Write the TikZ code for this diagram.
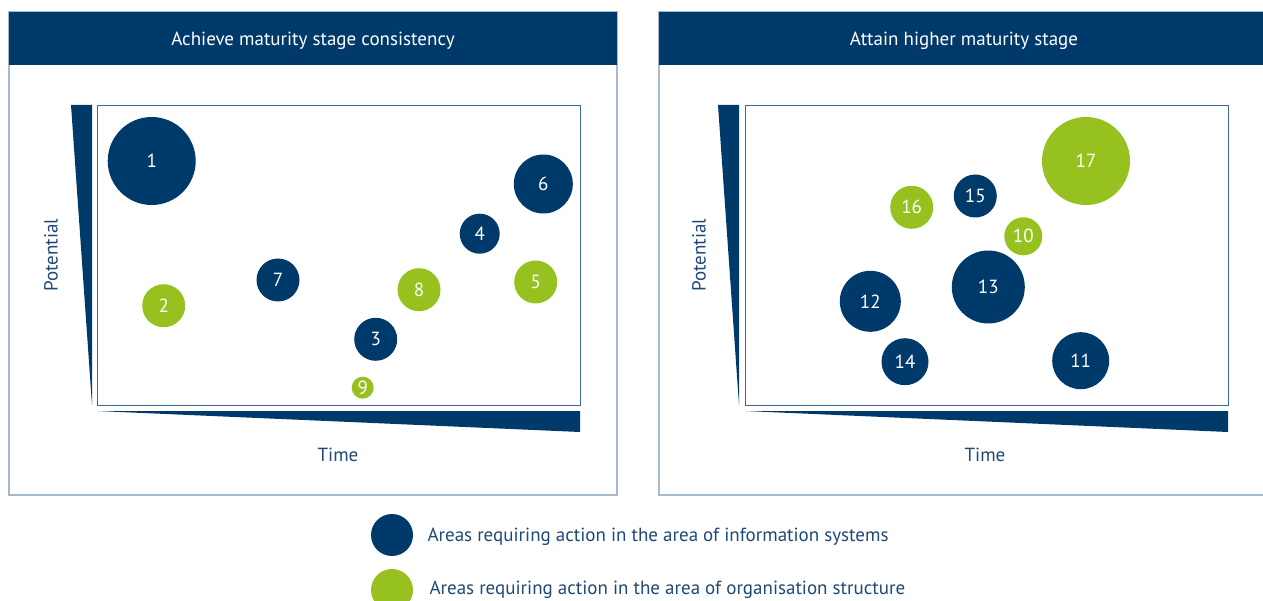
\documentclass[tikz,border=0pt]{standalone}
\usepackage{fontspec}
\setmainfont{PT Sans}
\definecolor{navy}{RGB}{0,58,106}
\definecolor{lime}{RGB}{151,193,31}
\definecolor{boxline}{RGB}{60,105,150}
\definecolor{panelline}{RGB}{168,186,202}
\definecolor{labeltext}{RGB}{31,72,118}
\begin{document}
\begin{tikzpicture}[x=1pt,y=-1pt,
  panel/.style={draw=panelline,line width=1.2pt},
  header/.style={fill=navy},
  headtext/.style={text=white,font=\fontsize{19}{21}\selectfont},
  plotbox/.style={draw=boxline,line width=0.8pt},
  wedge/.style={fill=navy},
  axislabel/.style={text=labeltext,font=\fontsize{19}{21}\selectfont},
  bub/.style={circle,inner sep=0pt,text=white,font=\fontsize{19}{21}\selectfont},
  isb/.style={bub,fill=navy},
  osb/.style={bub,fill=lime},
  legtext/.style={text=labeltext,font=\fontsize{19}{21}\selectfont,anchor=west}]
\useasboundingbox (0,0) rectangle (1263,601);
% left panel
\draw[panel] (9,12) rectangle (617,495);
\fill[header] (9,12) rectangle (617,65);
\node[headtext] (h1) at (313,41) {Achieve maturity stage consistency};
\draw[plotbox] (97,105) rectangle (580,405);
\fill[wedge] (71,105) -- (92,105) -- (92,405) -- cycle;
\fill[wedge] (97,411) -- (580,411) -- (580,432) -- cycle;
\node[axislabel,rotate=90] (p1) at (51,255) {Potential};
\node[axislabel] (t1) at (338,455) {Time};
\node[isb,minimum size=88pt] (c1) at (151.7,161) {1};
\node[osb,minimum size=43pt] (c2) at (163.7,305.7) {2};
\node[isb,minimum size=43pt] (c7) at (278,280) {7};
\node[isb,minimum size=59pt] (c6) at (543.3,184) {6};
\node[isb,minimum size=40pt] (c4) at (479.7,233.7) {4};
\node[osb,minimum size=43pt] (c8) at (419,289.7) {8};
\node[osb,minimum size=43pt] (c5) at (535.7,282) {5};
\node[isb,minimum size=43pt] (c3) at (375.7,339.3) {3};
\node[osb,minimum size=22pt] (c9) at (362.7,387.7) {9};
% right panel
\draw[panel] (659,12) rectangle (1275,495);
\fill[header] (659,12) rectangle (1275,65);
\node[headtext] (h2) at (964,41) {Attain higher maturity stage};
\draw[plotbox] (745,105) rectangle (1228,405);
\fill[wedge] (718,105) -- (739,105) -- (739,405) -- cycle;
\fill[wedge] (745,411) -- (1228,411) -- (1228,432) -- cycle;
\node[axislabel,rotate=90] (p2) at (699,255) {Potential};
\node[axislabel] (t2) at (985,455) {Time};
\node[osb,minimum size=88pt] (c17) at (1086,161) {17};
\node[isb,minimum size=43pt] (c15) at (975.3,196) {15};
\node[osb,minimum size=43pt] (c16) at (911.7,207.3) {16};
\node[osb,minimum size=38pt] (c10) at (1023.3,236.3) {10};
\node[isb,minimum size=73pt] (c13) at (988.3,287) {13};
\node[isb,minimum size=61pt] (c12) at (870.3,301.3) {12};
\node[isb,minimum size=47pt] (c14) at (905,361.7) {14};
\node[isb,minimum size=57pt] (c11) at (1080.7,360.7) {11};
% legend
\node[isb,minimum size=42pt] (l1) at (392,535) {};
\node[osb,minimum size=42pt] (l2) at (392,590) {};
\node[legtext] (lt1) at (424,537) {Areas requiring action in the area of information systems};
\node[legtext] (lt2) at (426,590) {Areas requiring action in the area of organisation structure};
\end{tikzpicture}
\end{document}
